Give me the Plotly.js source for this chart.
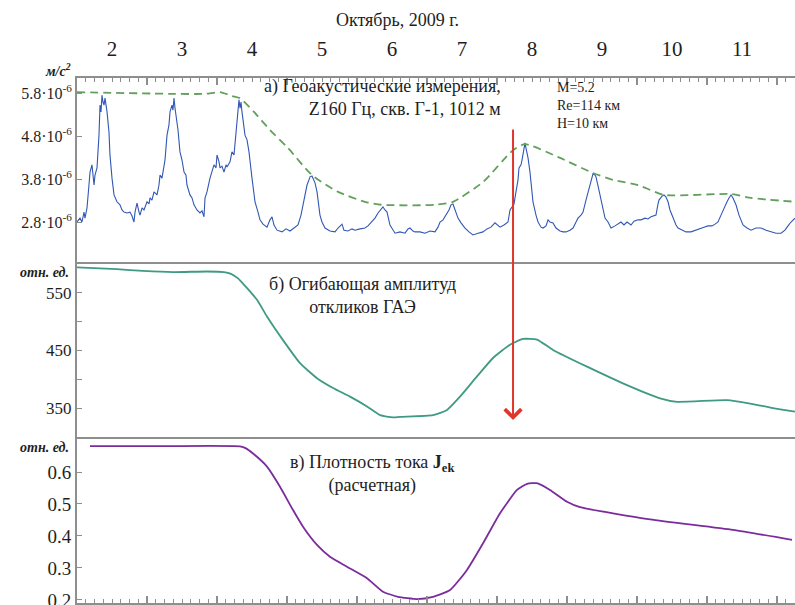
<!DOCTYPE html>
<html><head><meta charset="utf-8">
<script src="https://cdn.plot.ly/plotly-3.0.1.min.js"></script>
<style>html,body{margin:0;padding:0;background:#fff}#chart{width:795px;height:605px}</style>
</head><body><div id="chart"></div>
<script>
// Top axis day labels (October 2009)
const dayLabels = ['2','3','4','5','6','7','8','9','10','11'];

// a) geoacoustic signal, time in days of October, value in 10^-6 m/s^2
const geoT = [
2.000,2.043,2.071,2.100,2.114,2.143,2.171,2.186,2.214,2.243,
2.257,2.286,2.314,2.329,2.343,2.357,2.371,2.386,2.400,2.414,
2.429,2.457,2.471,2.500,2.529,2.571,2.614,2.643,2.671,2.714,
2.757,2.786,2.814,2.829,2.857,2.886,2.900,2.929,2.957,3.000,
3.029,3.043,3.071,3.100,3.143,3.171,3.186,3.214,3.243,3.257,
3.286,3.314,3.329,3.357,3.371,3.386,3.400,3.429,3.443,3.471,
3.500,3.529,3.557,3.571,3.614,3.643,3.671,3.714,3.757,3.786,
3.814,3.829,3.857,3.900,3.929,3.957,3.986,4.000,4.029,4.043,
4.071,4.100,4.129,4.143,4.186,4.214,4.243,4.257,4.286,4.314,
4.329,4.343,4.357,4.386,4.400,4.429,4.457,4.500,4.543,4.586,
4.614,4.657,4.714,4.757,4.786,4.814,4.857,4.929,4.986,5.043,
5.100,5.157,5.200,5.229,5.257,5.286,5.314,5.329,5.357,5.371,
5.400,5.429,5.471,5.500,5.543,5.614,5.686,5.729,5.757,5.786,
5.814,5.871,5.929,5.971,6.043,6.114,6.157,6.214,6.257,6.300,
6.343,6.371,6.400,6.429,6.471,6.543,6.614,6.686,6.729,6.757,
6.800,6.829,6.900,6.971,7.043,7.114,7.157,7.186,7.229,7.271,
7.314,7.343,7.371,7.386,7.414,7.443,7.486,7.543,7.600,7.657,
7.729,7.800,7.857,7.914,7.971,8.014,8.043,8.100,8.157,8.186,
8.214,8.243,8.271,8.300,8.314,8.343,8.357,8.386,8.400,8.414,
8.443,8.471,8.514,8.557,8.586,8.629,8.657,8.700,8.729,8.757,
8.800,8.843,8.900,8.943,8.986,9.043,9.086,9.129,9.157,9.200,
9.229,9.271,9.300,9.329,9.371,9.400,9.414,9.443,9.471,9.514,
9.543,9.586,9.629,9.686,9.729,9.771,9.814,9.857,9.914,9.957,
10.014,10.057,10.114,10.157,10.200,10.243,10.271,10.300,10.314,10.357,
10.386,10.414,10.443,10.471,10.514,10.557,10.586,10.643,10.700,10.771,
10.829,10.886,10.957,11.014,11.071,11.114,11.157,11.200,11.243,11.286,
11.314,11.343,11.371,11.414,11.457,11.514,11.571,11.629,11.700,11.771,
11.843,11.914,11.986,12.057,12.114,12.157,12.200,12.257];
const geoV = [
2.80,2.89,2.80,3.03,2.89,3.13,3.66,3.96,4.13,3.66,
3.89,4.06,4.82,5.52,5.36,5.75,5.59,5.52,5.68,5.54,
5.36,4.89,4.36,3.82,3.43,3.27,3.20,3.08,3.03,3.01,
3.03,2.94,2.80,3.03,3.24,3.03,2.96,3.13,3.08,3.27,
3.22,3.36,3.31,3.50,3.43,3.66,3.89,3.82,4.13,4.24,
4.82,5.06,5.36,5.52,5.40,5.68,5.45,5.13,4.94,4.43,
4.24,3.96,3.89,3.66,3.43,3.36,3.20,3.08,3.01,3.06,
2.92,3.36,3.50,3.82,3.96,4.13,4.06,4.36,4.20,4.06,
4.10,3.96,4.13,4.08,4.20,4.43,4.36,4.59,5.22,5.64,
5.45,5.59,5.36,5.06,4.82,4.71,4.43,3.82,3.27,3.03,
2.85,2.75,2.68,2.85,2.92,2.73,2.61,2.57,2.64,2.59,
2.66,2.73,2.96,3.20,3.43,3.66,3.78,3.85,3.87,3.82,
3.71,3.50,2.96,2.80,2.66,2.59,2.57,2.66,2.71,2.75,
2.61,2.59,2.64,2.61,2.64,2.66,2.71,2.80,2.89,3.01,
3.08,3.15,3.08,3.03,2.73,2.54,2.57,2.54,2.64,2.66,
2.59,2.57,2.57,2.54,2.59,2.57,2.68,2.80,2.85,2.96,
3.08,3.20,3.22,3.15,3.01,2.89,2.78,2.66,2.57,2.50,
2.54,2.57,2.64,2.68,2.78,2.71,2.68,2.73,2.80,3.08,
3.15,3.22,3.50,3.78,4.06,4.13,4.24,4.59,4.64,4.52,
4.29,3.96,3.27,2.96,2.80,2.68,2.66,2.71,2.85,2.80,
2.78,2.66,2.59,2.57,2.57,2.61,2.66,2.80,2.89,2.96,
3.03,3.31,3.50,3.66,3.92,3.89,3.85,3.64,3.43,3.08,
2.89,2.80,2.66,2.71,2.75,2.80,2.73,2.80,2.73,2.82,
2.85,2.85,2.89,2.87,2.92,2.94,2.96,3.22,3.31,3.40,
3.43,3.38,3.27,3.08,2.89,2.73,2.66,2.61,2.57,2.57,
2.61,2.64,2.68,2.71,2.71,2.75,2.80,2.96,3.13,3.27,
3.36,3.43,3.36,3.20,2.96,2.73,2.66,2.61,2.66,2.66,
2.61,2.57,2.54,2.54,2.61,2.71,2.80,2.89];

// envelope of the peaks (dashed)
const envT = [2.000,3.400,3.829,4.043,4.214,4.329,4.529,4.757,5.014,5.357,5.729,6.114,6.357,7.114,7.371,7.800,8.229,8.400,8.900,9.371,9.657,10.014,10.386,11.343,11.629,12.257];
const envV = [5.82,5.78,5.78,5.82,5.73,5.68,5.36,4.94,4.52,3.89,3.50,3.27,3.20,3.20,3.27,3.73,4.47,4.61,4.29,3.94,3.78,3.66,3.43,3.45,3.36,3.27];

// b) envelope of GAE response amplitudes
const ampT = [2.000,2.571,2.943,3.371,3.857,4.100,4.200,4.300,4.371,4.571,4.714,4.943,5.186,5.429,5.657,5.900,6.143,6.329,6.514,6.614,7.086,7.286,7.471,7.714,7.943,8.186,8.371,8.571,8.800,9.286,9.857,10.329,10.571,11.286,11.614,11.943,12.257];
const ampV = [594,591,588,586,587,586,583,575,566,538,509,468,428,402,385,370,353,338,334,335,338,347,370,405,437,460,470,469,451,422,390,367,361,364,358,350,344];

// c) current density Jek (calculated)
const jT = [2.186,3.257,4.329,4.414,4.514,4.714,4.900,5.086,5.229,5.429,5.614,5.857,6.143,6.371,6.586,6.857,7.086,7.329,7.571,7.800,8.043,8.286,8.429,8.571,8.757,9.000,9.186,10.186,11.371,12.214];
const jV = [0.681,0.681,0.680,0.674,0.658,0.617,0.554,0.481,0.429,0.372,0.335,0.304,0.268,0.226,0.210,0.203,0.210,0.231,0.294,0.377,0.471,0.544,0.563,0.565,0.544,0.507,0.490,0.452,0.419,0.388];

const geoTicks = [2.8,3.8,4.8,5.8];
const geoTickText = geoTicks.map(v => v.toFixed(1) + '·10<sup>-6</sup>');
const ampTicks = [350,450,550];
const jTicks = [0.2,0.3,0.4,0.5,0.6];
const quakeDay = 8.229;

const X_RANGE = [2, 12.257];
const GRAY = '#8e8e8e';
const SERIF = '"Liberation Serif", "Times New Roman", serif';

const traces = [
  {x: geoT, y: geoV, xaxis: 'x3', yaxis: 'y', type: 'scatter', mode: 'lines',
   line: {color: '#3157b5', width: 1.1}, hoverinfo: 'skip'},
  {x: envT, y: envV, xaxis: 'x3', yaxis: 'y', type: 'scatter', mode: 'lines',
   line: {color: '#62a05c', width: 1.8, dash: '8px,5px', shape: 'spline', smoothing: 0.6}, hoverinfo: 'skip'},
  {x: ampT, y: ampV, xaxis: 'x2', yaxis: 'y2', type: 'scatter', mode: 'lines',
   line: {color: '#3f9a83', width: 1.8, shape: 'spline', smoothing: 0.5}, hoverinfo: 'skip'},
  {x: jT, y: jV, xaxis: 'x', yaxis: 'y3', type: 'scatter', mode: 'lines',
   line: {color: '#7b2c9c', width: 1.8, shape: 'spline', smoothing: 0.5}, hoverinfo: 'skip'}
];

const majorDays = dayLabels.map(Number).concat([12]);
const tickAxisCommon = {
  range: X_RANGE, showline: true, linecolor: GRAY, linewidth: 2,
  tickmode: 'array', tickvals: majorDays, ticks: 'inside', ticklen: 7, tickwidth: 1.5, tickcolor: GRAY,
  minor: {tickmode: 'linear', tick0: 2, dtick: 0.125, ticks: 'inside', ticklen: 4, tickwidth: 1, tickcolor: GRAY, showgrid: false},
  showticklabels: false, showgrid: false, zeroline: false, fixedrange: true
};

const H = 525; // plot area height
const py = p => (603 - p) / H;    // helpers for text placement only
const px = p => (p - 77) / 718;

const layout = {
  width: 795, height: 605,
  margin: {l: 77, r: 0, t: 78, b: 2, pad: 0},
  paper_bgcolor: '#ffffff', plot_bgcolor: 'rgba(0,0,0,0)',
  showlegend: false,
  font: {family: SERIF, color: '#1e1e1e', size: 16},
  title: {text: 'Октябрь, 2009 г.', font: {family: SERIF, size: 18, color: '#1e1e1e'},
          x: 0.5, xanchor: 'center', y: 1 - 20 / 605, yanchor: 'middle'},
  xaxis: Object.assign({}, tickAxisCommon, {anchor: 'y3', domain: [0, 1]}),
  xaxis2: {range: X_RANGE, anchor: 'y2', domain: [0, 1], showline: true, mirror: true,
           linecolor: GRAY, linewidth: 2, ticks: '', showticklabels: false, showgrid: false,
           zeroline: false, fixedrange: true},
  xaxis3: Object.assign({}, tickAxisCommon, {
           anchor: 'y', side: 'top', domain: [0, 1],
           showticklabels: true, ticktext: dayLabels.concat(['']),
           ticklabelshift: 35, ticklabelstandoff: 12, ticklabeloverflow: 'allow',
           tickfont: {family: SERIF, size: 21, color: '#1e1e1e'}}),
  yaxis: {domain: [0.6457, 1], range: [1.823, 6.149], anchor: 'x3', showline: true,
          linecolor: GRAY, linewidth: 2, ticks: 'inside', ticklen: 5, tickcolor: GRAY,
          tickmode: 'array', tickvals: geoTicks, ticktext: geoTickText,
          tickfont: {family: SERIF, size: 16, color: '#1e1e1e'},
          showgrid: false, zeroline: false, fixedrange: true},
  yaxis2: {domain: [0.3162, 0.6457], range: [300, 600], anchor: 'x2', showline: true,
           linecolor: GRAY, linewidth: 2, ticks: 'inside', ticklen: 5, tickcolor: GRAY,
           tickmode: 'array', tickvals: ampTicks,
           minor: {tickmode: 'linear', tick0: 300, dtick: 50, ticks: 'inside', ticklen: 5, tickcolor: GRAY, showgrid: false},
           tickfont: {family: SERIF, size: 17, color: '#1e1e1e'},
           showgrid: false, zeroline: false, fixedrange: true},
  yaxis3: {domain: [0, 0.3162], range: [0.1906, 0.7094], anchor: 'x', showline: true,
           linecolor: GRAY, linewidth: 2, ticks: 'inside', ticklen: 5, tickcolor: GRAY,
           tickmode: 'array', tickvals: jTicks, ticktext: jTicks.map(v => v.toFixed(1)),
           ticklabeloverflow: 'allow',
           tickfont: {family: SERIF, size: 19, color: '#1e1e1e'},
           showgrid: false, zeroline: false, fixedrange: true},
  annotations: [
    {text: 'а) Геоакустические измерения,<br>Z160 Гц, скв. Г-1, 1012 м', xref: 'paper', yref: 'paper',
     x: px(503), y: py(97.5), xanchor: 'right', yanchor: 'middle', align: 'right', showarrow: false,
     font: {family: SERIF, size: 18}},
    {text: 'M=5.2<br>Re=114 км<br>H=10 км', xref: 'paper', yref: 'paper',
     x: px(555), y: py(105.5), xanchor: 'left', yanchor: 'middle', align: 'left', showarrow: false,
     font: {family: SERIF, size: 14}},
    {text: 'б) Огибающая амплитуд<br>откликов ГАЭ', xref: 'paper', yref: 'paper',
     x: px(362), y: py(295.5), xanchor: 'center', yanchor: 'middle', align: 'center', showarrow: false,
     font: {family: SERIF, size: 18}},
    {text: 'в) Плотность тока <b>J<sub>ek</sub></b><br>(расчетная)', xref: 'paper', yref: 'paper',
     x: px(372), y: py(474), xanchor: 'center', yanchor: 'middle', align: 'center', showarrow: false,
     font: {family: SERIF, size: 18}},
    {text: '<b><i>м/с<sup>2</sup></i></b>', xref: 'paper', yref: 'paper',
     x: px(73), y: py(70), xanchor: 'right', yanchor: 'middle', showarrow: false,
     font: {family: SERIF, size: 14}},
    {text: '<b><i>отн. ед.</i></b>', xref: 'paper', yref: 'paper',
     x: px(71), y: py(272), xanchor: 'right', yanchor: 'middle', showarrow: false,
     font: {family: SERIF, size: 14}},
    {text: '<b><i>отн. ед.</i></b>', xref: 'paper', yref: 'paper',
     x: px(71), y: py(447), xanchor: 'right', yanchor: 'middle', showarrow: false,
     font: {family: SERIF, size: 14}},
    {text: '', xref: 'x3', yref: 'paper', x: quakeDay, y: py(420),
     axref: 'pixel', ayref: 'pixel', ax: 0, ay: -292, showarrow: true,
     arrowhead: 4, arrowsize: 1.6, arrowwidth: 2, arrowcolor: '#e0352b'}
  ]
};

Plotly.newPlot('chart', traces, layout, {displayModeBar: false, staticPlot: true});
</script>
</body></html>
